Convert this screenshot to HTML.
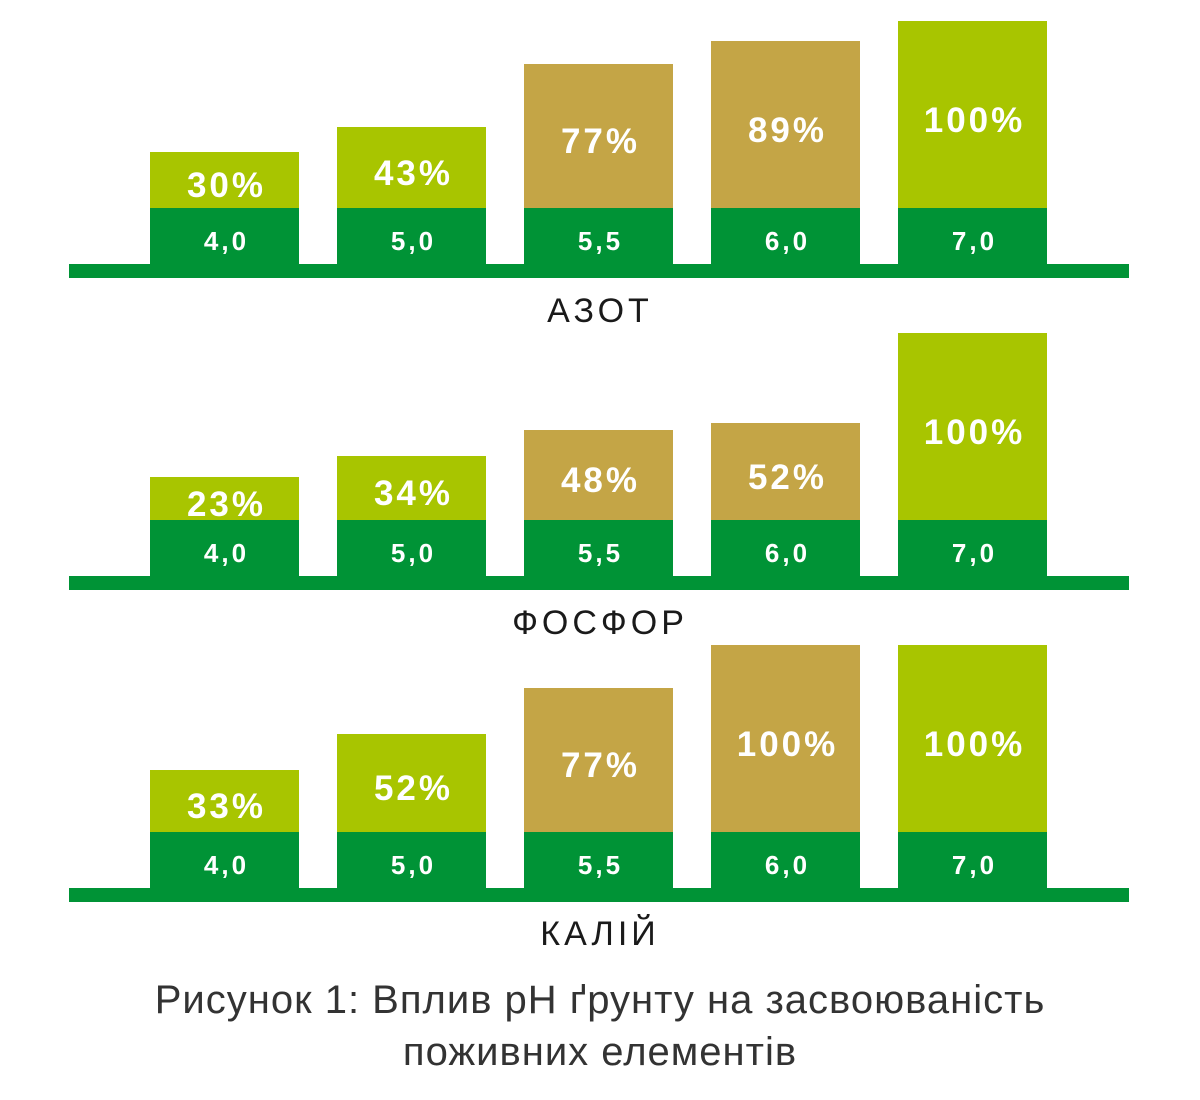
<!DOCTYPE html>
<html><head><meta charset="utf-8"><style>
body{margin:0;width:1200px;height:1100px;background:#fff;position:relative;overflow:hidden;font-family:"Liberation Sans",sans-serif}
.b{position:absolute;width:149px}
.t{position:absolute;width:149px;text-align:center;color:#fff;font-weight:bold;line-height:1}
.p{font-size:35px;letter-spacing:3px}
.h{font-size:26px;letter-spacing:3px}
.base{position:absolute;left:69px;width:1060px;height:14px;background:#009336}
.ttl{position:absolute;left:0;width:1200px;text-align:center;font-size:34px;letter-spacing:4px;color:#1a1a1a;line-height:1}
.cap{position:absolute;left:0;width:1200px;text-align:center;font-size:40px;letter-spacing:1px;color:#333;line-height:1}
</style></head><body>
<div id="c"></div>
<div class="ttl" style="top:294px">АЗОТ</div>
<div class="ttl" style="top:606px">ФОСФОР</div>
<div class="ttl" style="top:917px">КАЛІЙ</div>
<div class="cap" style="top:980px">Рисунок 1: Вплив pH ґрунту на засвоюваність</div>
<div class="cap" style="top:1032px">поживних елементів</div>
<script>
var xs=[150,337,524,711,898],ph=["4,0","5,0","5,5","6,0","7,0"];
var L="#a8c500",T="#c4a546",G="#009336";
var charts=[
 {off:0,tops:[152,127,64,41,21],v:["30%","43%","77%","89%","100%"],c:[L,L,T,T,L]},
 {off:312,tops:[477,456,430,423,333],v:["23%","34%","48%","52%","100%"],c:[L,L,T,T,L]},
 {off:624,tops:[770,734,688,645,645],v:["33%","52%","77%","100%","100%"],c:[L,L,T,T,L]}];
var h="";
charts.forEach(function(ch){
 var pt=208+ch.off;
 for(var i=0;i<5;i++){
  var top=ch.tops[i];
  h+='<div class="b" style="left:'+xs[i]+'px;top:'+top+'px;height:'+(pt-top)+'px;background:'+ch.c[i]+'"></div>';
  h+='<div class="b" style="left:'+xs[i]+'px;top:'+pt+'px;height:56px;background:'+G+'"></div>';
  var cy=(top+pt)/2+5;
  h+='<div class="t p" style="left:'+(xs[i]+2)+'px;top:'+(cy-17)+'px">'+ch.v[i]+'</div>';
  h+='<div class="t h" style="left:'+(xs[i]+2)+'px;top:'+(pt+20)+'px">'+ph[i]+'</div>';
 }
 h+='<div class="base" style="top:'+(264+ch.off)+'px"></div>';
});
document.getElementById("c").innerHTML=h;
</script>
</body></html>
